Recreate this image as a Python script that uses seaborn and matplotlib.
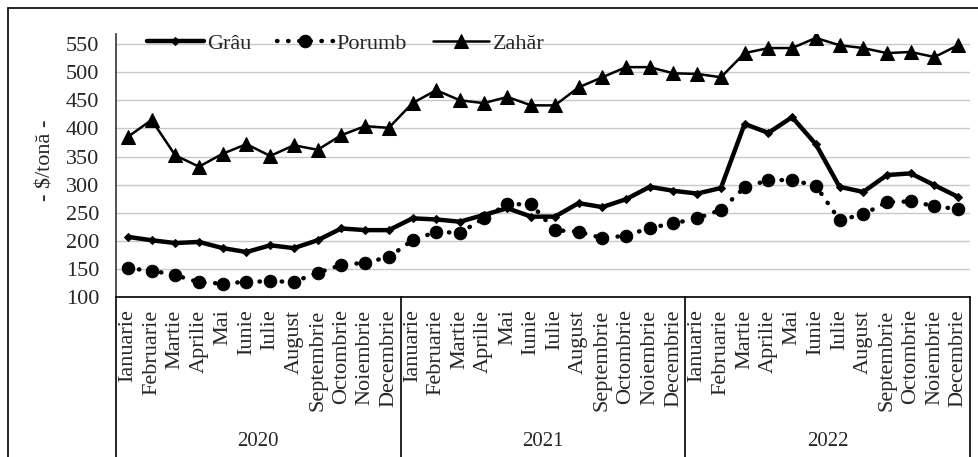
import matplotlib
matplotlib.use("Agg")
import matplotlib.pyplot as plt
import seaborn as sns
import pandas as pd
import numpy as np
from matplotlib.lines import Line2D

months = ["Ianuarie", "Februarie", "Martie", "Aprilie", "Mai", "Iunie", "Iulie",
          "August", "Septembrie", "Octombrie", "Noiembrie", "Decembrie"]
years = ["2020", "2021", "2022"]

grau = [207, 201, 196, 198, 187, 180, 192, 187, 201, 222, 219, 219,
        240, 238, 234, 246, 258, 243, 243, 267, 260, 274, 296, 289,
        284, 294, 408, 392, 420, 372, 296, 287, 317, 320, 299, 278]
porumb = [151, 147, 139, 126, 124, 127, 128, 127, 143, 157, 161, 171,
          201, 216, 214, 240, 265, 265, 219, 216, 205, 209, 223, 231,
          240, 255, 295, 308, 308, 298, 237, 247, 269, 270, 262, 256]
zahar = [385, 415, 352, 332, 355, 372, 351, 370, 362, 388, 404, 401,
         445, 468, 450, 445, 456, 441, 441, 473, 491, 509, 509, 498,
         497, 491, 534, 543, 543, 561, 548, 543, 534, 536, 527, 548]

yticks = [100, 150, 200, 250, 300, 350, 400, 450, 500, 550]

sns.set_style("white")
plt.rcParams['font.family'] = ['Liberation Serif', 'DejaVu Serif']

W, H = 979, 457
fig = plt.figure(figsize=(W / 100, H / 100), dpi=100)
ax = fig.add_axes([116 / W, 1 - 297 / H, (970 - 116) / W, (297 - 34) / H])

n = len(grau)
x = np.arange(n)
df = pd.DataFrame({"x": x, "Grâu": grau, "Porumb": porumb, "Zahăr": zahar})

sns.lineplot(data=df, x="x", y="Grâu", ax=ax, color="black", linewidth=3.2,
             marker="D", markersize=4.5, markeredgecolor="black", label="Grâu")
sns.lineplot(data=df, x="x", y="Porumb", ax=ax, color="black", linewidth=3.2,
             linestyle=(0, (0.1, 2.4)), dash_capstyle="round",
             marker="o", markersize=9, markeredgecolor="black", label="Porumb")
sns.lineplot(data=df, x="x", y="Zahăr", ax=ax, color="black", linewidth=1.8,
             marker="^", markersize=9.5, markeredgecolor="black", label="Zahăr")

ax.set_xlim(-0.5, n - 0.5)
ax.set_ylim(100, 568)
ax.set_yticks(yticks)
ax.set_yticklabels([str(v) for v in yticks], fontsize=16)
ax.set_xticks(x)
ax.set_xticklabels(months * len(years), rotation=90, fontsize=16, va="top", ha="center")
ax.tick_params(axis="both", length=0)
ax.tick_params(axis="y", pad=12)
ax.tick_params(axis="x", pad=9)
ax.set_xlabel("")
ax.set_ylabel("- $/tonă -", fontsize=16)
ax.yaxis.set_label_coords(-0.071, 0.52)

ax.grid(axis="y", color="#c8c8c8", linewidth=1.0, linestyle="-")
ax.grid(axis="x", visible=False)
for s in ["top", "right"]:
    ax.spines[s].set_visible(False)
ax.spines["left"].set_color("#333333")
ax.spines["left"].set_linewidth(1.2)
ax.spines["bottom"].set_color("black")
ax.spines["bottom"].set_linewidth(1.2)

# group separators and year labels
trans = ax.get_xaxis_transform()
for b in range(len(years) + 1):
    xb = b * 12 - 0.5
    ax.plot([xb, xb], [0, -0.8], transform=trans, color="black", linewidth=1.2, clip_on=False)
for i, yr in enumerate(years):
    ax.text(i * 12 + 5.5, -0.55, yr, transform=trans, ha="center", va="center", fontsize=15)

leg = ax.legend(loc="center left", bbox_to_anchor=(147 / W, 1 - 44 / H),
                bbox_transform=fig.transFigure, ncol=3, frameon=False, fontsize=16,
                handlelength=2.55, handletextpad=0.15, columnspacing=1.15,
                borderpad=0, borderaxespad=0)

# outer frame (top and left edges)
fig.add_artist(Line2D([8 / W, 1.0], [1 - 8 / H, 1 - 8 / H], transform=fig.transFigure,
                      color="black", linewidth=1.2))
fig.add_artist(Line2D([8 / W, 8 / W], [0, 1 - 8 / H], transform=fig.transFigure,
                      color="black", linewidth=1.2))

fig.savefig("out.png", dpi=100, facecolor="white")
